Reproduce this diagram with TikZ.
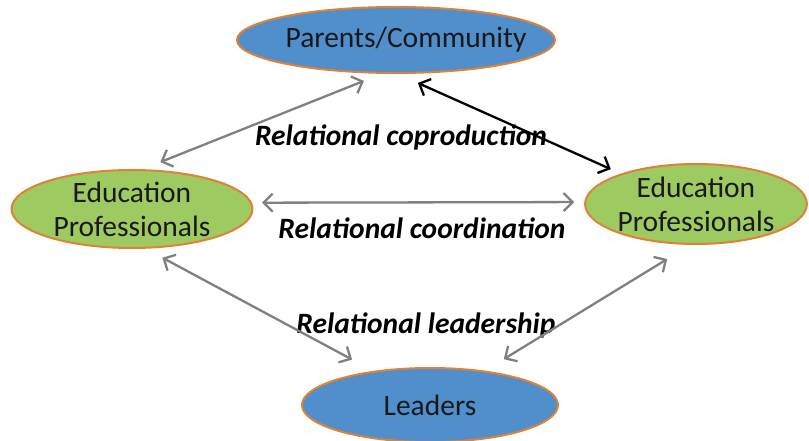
\documentclass[tikz,border=0pt]{standalone}
\usepackage{fontspec}
\setmainfont{Carlito}
\usetikzlibrary{shapes.geometric,arrows.meta}
\definecolor{partyblue}{RGB}{80,142,204}
\definecolor{partygreen}{RGB}{158,202,98}
\definecolor{rimorange}{RGB}{222,130,55}
\definecolor{linkgray}{RGB}{128,128,128}
\begin{document}
\begin{tikzpicture}[x=1pt,y=-1pt,>={Straight Barb[length=9pt,width=18pt]},line join=round,line cap=round,font=\fontsize{29.5}{34}\selectfont,
	party/.style={ellipse,draw=rimorange,line width=2pt,inner sep=0pt,align=center,text=black!90},
	link/.style={<->,linkgray,line width=2.3pt},
	relation/.style={font=\fontsize{29.5}{32}\selectfont\bfseries\itshape}]
	\useasboundingbox (0,0) rectangle (809,441);
	% the four parties
	\node[party,fill=partyblue,minimum width=318pt,minimum height=66pt,
		label={[xshift=10pt,text=black!90]center:Parents/Community}] (parents) at (396,40) {};
	\node[party,fill=partygreen,minimum width=241pt,minimum height=78pt] (profleft) at (132,209) {Education\\Professionals};
	\node[party,fill=partygreen,minimum width=221pt,minimum height=80pt] (profright) at (696,204) {Education\\Professionals};
	\node[party,fill=partyblue,minimum width=256pt,minimum height=74pt] (leaders) at (430,405) {Leaders};
	% relations
	\node[relation] (coprod) at (401,137) {Relational coproduction};
	\node[relation] (coord) at (422,228) {Relational coordination};
	\node[relation] (lead) at (426,325) {Relational leadership};
	% connectors
	\draw[link,shorten <=19pt,shorten >=19pt] (profleft.75)--(parents.247);
	\draw[<->,black,line width=2.3pt,shorten <=22pt,shorten >=11pt] (parents.273)--(profright.158);
	\draw[link,shorten <=10pt,shorten >=10pt] (profleft.3)--(profright.179);
	\draw[link,shorten <=19pt,shorten >=24pt] (profleft.289)--(leaders.149);
	\draw[link,shorten <=27pt,shorten >=22pt] (profright.262)--(leaders.32);
\end{tikzpicture}
\end{document}
